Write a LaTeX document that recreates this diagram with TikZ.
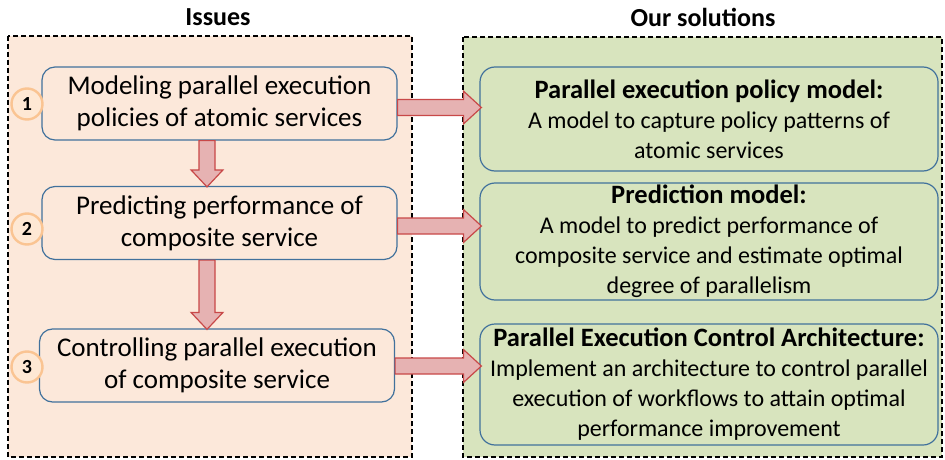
\documentclass[tikz,border=0pt]{standalone}
\usepackage{fontspec}
\setmainfont{Carlito}
\usetikzlibrary{calc}

\definecolor{issuebg}{RGB}{252,232,218}
\definecolor{solbg}{RGB}{216,228,190}
\definecolor{boxline}{RGB}{65,113,156}
\definecolor{arrowfill}{RGB}{230,178,178}
\definecolor{arrowline}{RGB}{200,72,72}
\definecolor{badgefill}{RGB}{254,232,212}
\definecolor{badgeline}{RGB}{250,196,146}

% bold face for the first line of each solution box
\newcommand\soltitleface{\bfseries\fontsize{26.5}{30}\selectfont}

\tikzset{
  frame/.style={draw=black, dash pattern=on 5pt off 3pt, line width=1.2pt},
  issuebox/.style={draw=boxline, line width=1.2pt, rounded corners=13pt,
    fill=issuebg, minimum width=355pt, minimum height=73pt,
    align=center, font=\fontsize{27}{32}\selectfont, inner sep=0pt},
  solbox/.style={draw=boxline, line width=1.2pt, rounded corners=15pt,
    fill=solbg, minimum width=458pt, align=center,
    font=\fontsize{24}{30}\selectfont, inner sep=0pt},
  badge/.style={circle, draw=badgeline, line width=2.4pt, fill=badgefill,
    minimum size=31pt, inner sep=0pt, font=\bfseries\fontsize{20}{20}\selectfont},
  heading/.style={font=\bfseries\fontsize{26}{26}\selectfont},
  barrow/.style={draw=arrowline, fill=arrowfill, line width=1.2pt, line join=miter},
}

\begin{document}
\begin{tikzpicture}[x=1pt, y=-1pt]
  \useasboundingbox (0,0) rectangle (945,460);

  % column frames
  \draw[frame, fill=issuebg] (8,36) rectangle (412,457);
  \draw[frame, fill=solbg] (463,37) rectangle (942,457);

  % headings
  \node[heading] (hIssues) at (218,17) {Issues};
  \node[heading] (hSol) at (703,17) {Our solutions};

  % issues
  \node[issuebox] (i1) at (219.5,103.5) {Modeling parallel execution\\policies of atomic services};
  \node[issuebox] (i2) at (219.5,223) {Predicting performance of\\composite service};
  \node[issuebox] (i3) at (217,365.5) {Controlling parallel execution\\of composite service};

  % numbered badges
  \node[badge] (n1) at (27,104) {1};
  \node[badge] (n2) at (27,229) {2};
  \node[badge] (n3) at (27,367) {3};

  % solutions
  \node[solbox, minimum height=104pt] (s1) at (709,119)
    {{\soltitleface Parallel execution policy model:}\\A model to capture policy patterns of\\atomic services};
  \node[solbox, minimum height=117pt] (s2) at (709,241.5)
    {{\soltitleface Prediction model:}\\A model to predict performance of\\composite service and estimate optimal\\degree of parallelism};
  \node[solbox, minimum height=121pt] (s3) at (709,384.5)
    {{\soltitleface Parallel Execution Control Architecture:}\\Implement an architecture to control parallel\\execution of workflows to attain optimal\\performance improvement};

  % downward block arrows between issues
  \foreach \a/\b in {i1/i2, i2/i3} {
    \draw[barrow] let \p1=(\a.south), \p2=(\b.north) in
      (\x1-20.5pt,\y1) -- (\x1-20.5pt,\y2+16pt) -- (\x1-28.5pt,\y2+16pt)
      -- (\x1-12.5pt,\y2-1pt) -- (\x1+3.5pt,\y2+16pt) -- (\x1-4.5pt,\y2+16pt)
      -- (\x1-4.5pt,\y1) -- cycle;
  }

  % block arrows from each issue to its solution
  \foreach \a/\b/\d in {i1/s1/4, i2/s2/3, i3/s3/0.5} {
    \draw[barrow] let \p1=(\a.east), \p2=(\b.west) in
      (\x1,\y1-\d pt+8pt) -- (\x2-16pt,\y1-\d pt+8pt) -- (\x2-16pt,\y1-\d pt+16.5pt)
      -- (\x2+2pt,\y1-\d pt) -- (\x2-16pt,\y1-\d pt-16.5pt) -- (\x2-16pt,\y1-\d pt-8pt)
      -- (\x1,\y1-\d pt-8pt) -- cycle;
  }
\end{tikzpicture}
\end{document}
